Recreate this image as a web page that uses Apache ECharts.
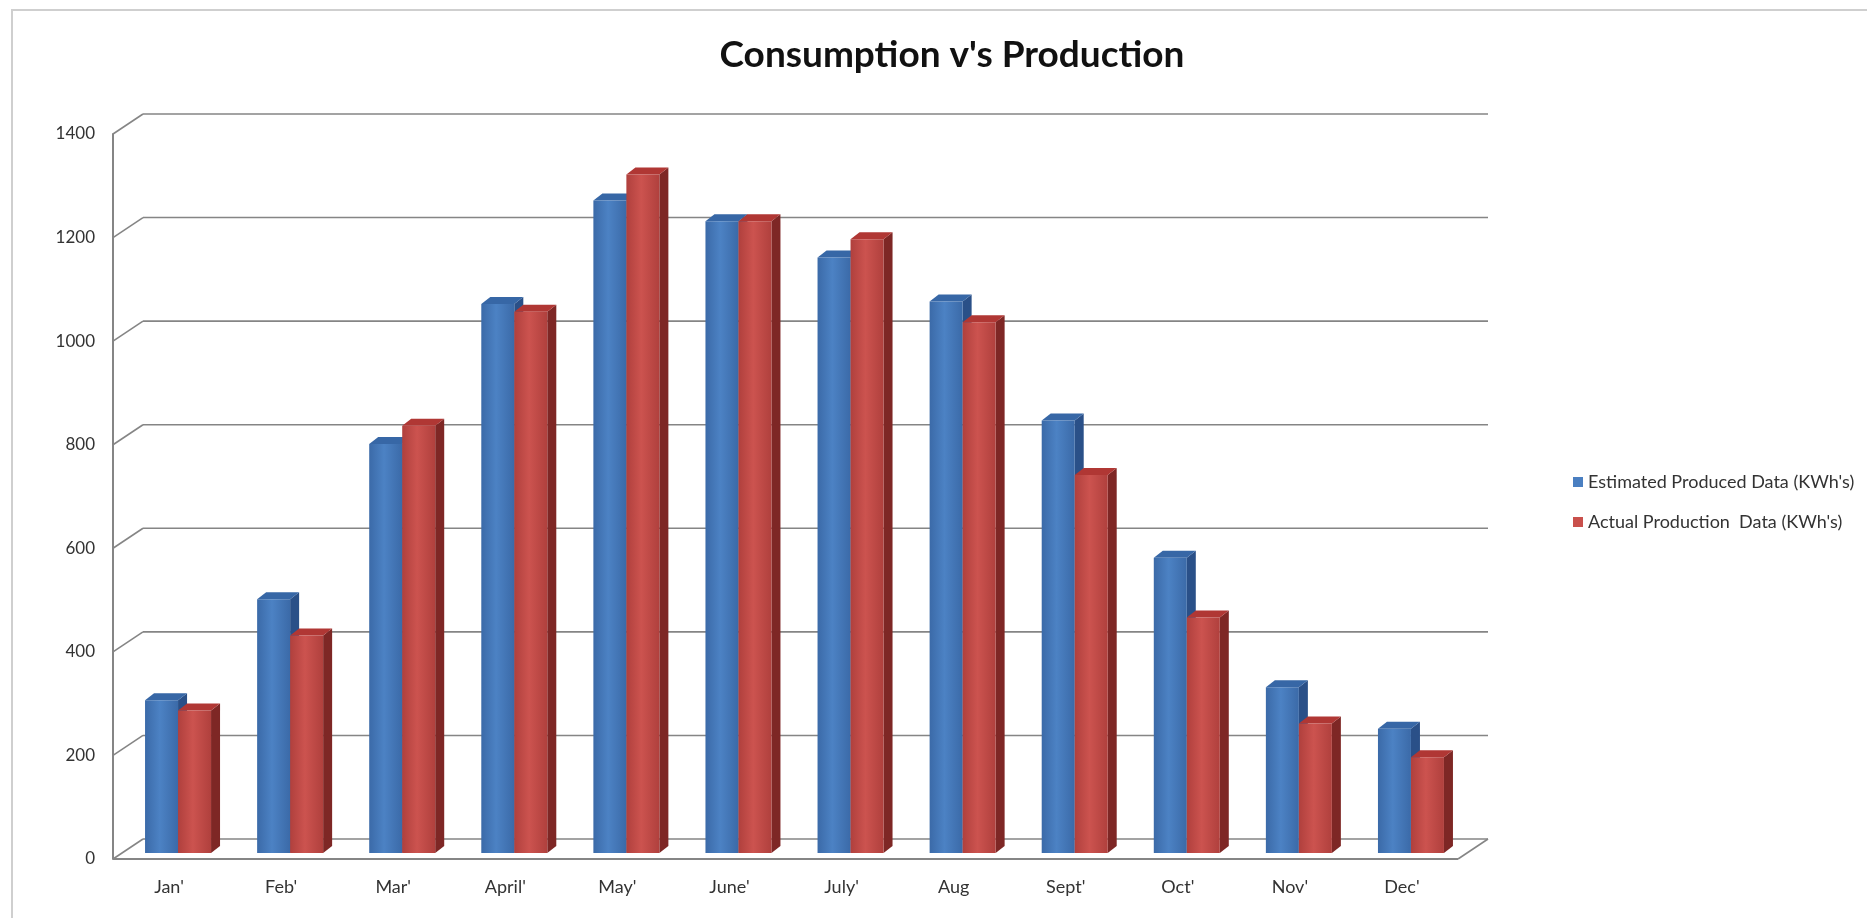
<!DOCTYPE html>
<html>
<head>
<meta charset="utf-8">
<title>Consumption v's Production</title>
<script src="https://cdn.jsdelivr.net/npm/echarts@6/dist/echarts.min.js"></script>
<style>
  html, body { margin: 0; padding: 0; background: #fff; }
  #chart { width: 1867px; height: 918px; }
</style>
</head>
<body>
<div id="chart"></div>
<script>
const months = ["Jan'", "Feb'", "Mar'", "April'", "May'", "June'", "July'", "Aug", "Sept'", "Oct'", "Nov'", "Dec'"]
const estimated = [295, 490, 790, 1060, 1260, 1220, 1150, 1065, 835, 570, 320, 240]
const actual = [275, 420, 825, 1045, 1310, 1220, 1185, 1025, 730, 455, 250, 185]
const yTicks = [0, 200, 400, 600, 800, 1000, 1200, 1400]

// fake 3d: back wall offset and bar offsets (px)
const WALL_DX = 30, WALL_DY = -20
const PLANE_DX = 9, PLANE_DY = -6
const BAR_W = 33, DEPTH_DX = 9, DEPTH_DY = -7

const blue = { front: '#4c82c4', edge: '#3b6aa8', side: '#2a5088', top: '#3767a6' }
const red = { front: '#cc534f', edge: '#b0403d', side: '#7e2725', top: '#b03734' }

const chart = echarts.init(document.getElementById('chart'))

function bar3d(side, c) {
  return function (params, api) {
    const i = api.value(0)
    const base = api.coord([i, 0])
    const top = api.coord([i, api.value(1)])
    const cx = base[0] + PLANE_DX
    const x0 = side < 0 ? cx - BAR_W : cx
    const x1 = x0 + BAR_W
    const yb = base[1] + PLANE_DY
    const yt = top[1] + PLANE_DY
    return {
      type: 'group',
      children: [
        {
          type: 'polygon',
          shape: { points: [[x1, yb], [x1 + DEPTH_DX, yb + DEPTH_DY], [x1 + DEPTH_DX, yt + DEPTH_DY], [x1, yt]] },
          style: { fill: c.side }
        },
        {
          type: 'polygon',
          shape: { points: [[x0, yt], [x0 + DEPTH_DX, yt + DEPTH_DY], [x1 + DEPTH_DX, yt + DEPTH_DY], [x1, yt]] },
          style: { fill: c.top }
        },
        {
          type: 'rect',
          shape: { x: x0, y: yt, width: BAR_W, height: yb - yt },
          style: {
            fill: new echarts.graphic.LinearGradient(0, 0, 1, 0, [
              { offset: 0, color: c.edge },
              { offset: 0.45, color: c.front },
              { offset: 1, color: c.edge }
            ])
          }
        }
      ]
    }
  }
}

function wall(params, api) {
  const v = api.value(0)
  const p = api.coord([0, v])
  const cs = params.coordSys
  const xl = cs.x, xr = cs.x + cs.width
  const y = p[1]
  const ln = { stroke: '#858585', lineWidth: 1.6 }
  const kids = [
    { type: 'line', shape: { x1: xl, y1: y, x2: xl + WALL_DX, y2: y + WALL_DY }, style: ln },
    { type: 'line', shape: { x1: xl + WALL_DX, y1: y + WALL_DY, x2: xr + WALL_DX, y2: y + WALL_DY }, style: ln }
  ]
  if (v === 0) {
    kids.push({ type: 'line', shape: { x1: xl, y1: y, x2: xr, y2: y }, style: { stroke: '#858585', lineWidth: 2 } })
    kids.push({ type: 'line', shape: { x1: xr, y1: y, x2: xr + WALL_DX, y2: y + WALL_DY }, style: ln })
  }
  return { type: 'group', children: kids }
}

const option = {
  backgroundColor: '#fff',
  animation: false,
  title: {
    text: "Consumption v's Production",
    left: 947,
    textAlign: 'center',
    top: 32,
    textStyle: { fontFamily: 'Lato', fontWeight: 'bold', fontSize: 37, color: '#111' }
  },
  legend: {
    orient: 'vertical',
    left: 1568,
    top: 468,
    itemGap: 22,
    itemWidth: 10,
    itemHeight: 10,
    icon: 'rect',
    data: ["Estimated Produced Data (KWh's)", "Actual Production  Data (KWh's)"],
    textStyle: { fontFamily: 'Lato', fontSize: 18, color: '#333' }
  },
  graphic: [{
    type: 'rect',
    shape: { x: 12, y: 10, width: 1900, height: 1000 },
    style: { fill: 'none', stroke: '#cfcfcf', lineWidth: 2 },
    silent: true
  }],
  grid: { left: 113, right: 409, top: 134, bottom: 59 },
  xAxis: {
    type: 'category',
    data: months,
    axisLine: { show: false },
    axisTick: { show: false },
    axisLabel: { margin: 19, fontFamily: 'Lato', fontSize: 18, color: '#333' }
  },
  yAxis: {
    type: 'value',
    min: 0,
    max: 1400,
    interval: 200,
    axisLine: { show: true, lineStyle: { color: '#858585', width: 2 } },
    axisTick: { show: false },
    splitLine: { show: false },
    axisLabel: { margin: 18, fontFamily: 'Lato', fontSize: 17, color: '#333', formatter: v => String(v) }
  },
  series: [
    {
      type: 'custom',
      name: 'wall',
      renderItem: wall,
      data: yTicks.map(v => [v]),
      encode: { y: 0 },
      silent: true,
      z: 1
    },
    {
      type: 'custom',
      name: "Estimated Produced Data (KWh's)",
      itemStyle: { color: '#4a7fc1' },
      renderItem: bar3d(-1, blue),
      data: estimated.map((v, i) => [i, v]),
      encode: { x: 0, y: 1 },
      z: 3
    },
    {
      type: 'custom',
      name: "Actual Production  Data (KWh's)",
      itemStyle: { color: '#c9504c' },
      renderItem: bar3d(1, red),
      data: actual.map((v, i) => [i, v]),
      encode: { x: 0, y: 1 },
      z: 4
    }
  ]
}

chart.setOption(option)
window.addEventListener('resize', () => chart.resize())
</script>
</body>
</html>
